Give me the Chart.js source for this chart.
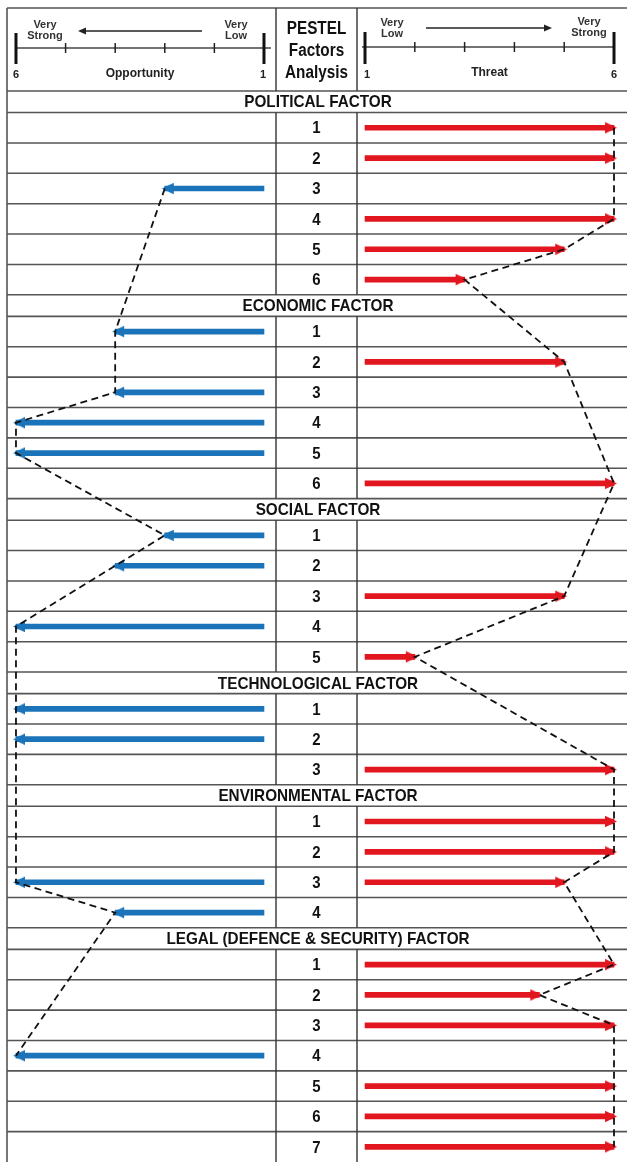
<!DOCTYPE html>
<html><head><meta charset="utf-8">
<script src="https://cdn.jsdelivr.net/npm/chart.js@4.4.1/dist/chart.umd.min.js"></script>
<style>html,body{margin:0;padding:0;background:#fff;}canvas{display:block;}</style>
</head><body>
<canvas id="c" width="627" height="1162"></canvas>
<script>
// ---------- DATA ----------
const sectionNames = ['POLITICAL FACTOR','ECONOMIC FACTOR','SOCIAL FACTOR','TECHNOLOGICAL FACTOR','ENVIRONMENTAL FACTOR','LEGAL (DEFENCE & SECURITY) FACTOR'];
const politicalOpportunity     = [null, null, 3, null, null, null];
const politicalThreat          = [6, 6, null, 6, 5, 3];
const economicOpportunity      = [4, null, 4, 6, 6, null];
const economicThreat           = [null, 5, null, null, null, 6];
const socialOpportunity        = [3, 4, null, 6, null];
const socialThreat             = [null, null, 5, null, 2];
const technologicalOpportunity = [6, 6, null];
const technologicalThreat      = [null, null, 6];
const environmentalOpportunity = [null, null, 6, 4];
const environmentalThreat      = [6, 6, 5, null];
const legalOpportunity         = [null, null, null, 6, null, null, null];
const legalThreat              = [6, 4.5, 6, null, 6, 6, 6];
const opportunityTicks = [6, 5, 4, 3, 2, 1];
const threatTicks = [1, 2, 3, 4, 5, 6];

const opportunityBySection = [politicalOpportunity, economicOpportunity, socialOpportunity, technologicalOpportunity, environmentalOpportunity, legalOpportunity];
const threatBySection = [politicalThreat, economicThreat, socialThreat, technologicalThreat, environmentalThreat, legalThreat];

// ---------- ROW LAYOUT (in y-scale units) ----------
const TITLE_H = 0.71, ITEM_H = 1;
const rows = [];
let cursor = 0;
sectionNames.forEach((name, s) => {
  rows.push({type: 'title', top: cursor, bottom: cursor + TITLE_H, center: cursor + TITLE_H / 2, label: name});
  cursor += TITLE_H;
  opportunityBySection[s].forEach((o, i) => {
    rows.push({type: 'item', top: cursor, bottom: cursor + ITEM_H, center: cursor + ITEM_H / 2,
      label: String(i + 1), opp: o, thr: threatBySection[s][i]});
    cursor += ITEM_H;
  });
});
const TOTAL = cursor;
const items = rows.filter(r => r.type === 'item');
const oppRows = items.filter(r => r.opp !== null);
const thrRows = items.filter(r => r.thr !== null);

const BLUE = '#1b74ba', RED = '#e2161e';

function makeHead(color, dir) {
  const c = document.createElement('canvas');
  c.width = 28; c.height = 13;
  const g = c.getContext('2d');
  g.fillStyle = color;
  const cx = 14, cy = 6.5, tip = 3, len = 12, half = 5.8;
  g.beginPath();
  if (dir > 0) { g.moveTo(cx + tip, cy); g.lineTo(cx + tip - len, cy - half); g.lineTo(cx + tip - len, cy + half); }
  else { g.moveTo(cx - tip, cy); g.lineTo(cx - tip + len, cy - half); g.lineTo(cx - tip + len, cy + half); }
  g.closePath(); g.fill();
  return c;
}
const headRight = makeHead(RED, 1);
const headLeft = makeHead(BLUE, -1);

const FONT = '"Liberation Sans", Arial, Helvetica, sans-serif';
function txt(ctx, t, x, y, size, sx, color, align) {
  ctx.save();
  ctx.font = 'bold ' + size + 'px ' + FONT;
  ctx.fillStyle = color || '#111';
  ctx.textAlign = align || 'center';
  ctx.textBaseline = 'middle';
  ctx.translate(x, y);
  ctx.scale(sx, 1);
  ctx.fillText(t, 0, 0);
  ctx.restore();
}
function line(ctx, x1, y1, x2, y2, w, color) {
  ctx.beginPath(); ctx.moveTo(x1, y1); ctx.lineTo(x2, y2);
  ctx.lineWidth = w; ctx.strokeStyle = color; ctx.stroke();
}
function smallArrow(ctx, x1, x2, y) {
  const d = x2 > x1 ? 1 : -1;
  line(ctx, x1, y, x2 - d * 5, y, 1.6, '#222');
  ctx.beginPath(); ctx.moveTo(x2, y); ctx.lineTo(x2 - d * 8, y - 3.5); ctx.lineTo(x2 - d * 8, y + 3.5);
  ctx.closePath(); ctx.fillStyle = '#222'; ctx.fill();
}

const COL1 = 276, COL2 = 357, LEFT = 7, RIGHT = 627, TOP = 8;

const tablePlugin = {
  id: 'table',
  beforeDraw(chart) {
    const ctx = chart.ctx;
    ctx.save(); ctx.fillStyle = '#fff'; ctx.fillRect(0, 0, chart.width, chart.height); ctx.restore();
  },
  beforeDatasetsDraw(chart) {
    const ctx = chart.ctx, y = chart.scales.y, xo = chart.scales.xo, xt = chart.scales.xt;
    const headerBottom = chart.chartArea.top;
    ctx.save();
    const GRID = '#555';
    // outer border
    line(ctx, LEFT, TOP, RIGHT, TOP, 1.6, GRID);
    line(ctx, LEFT, TOP, LEFT, chart.height, 1.6, GRID);
    line(ctx, LEFT, headerBottom, RIGHT, headerBottom, 1.6, GRID);
    // header column separators
    line(ctx, COL1, TOP, COL1, headerBottom, 1.4, '#333');
    line(ctx, COL2, TOP, COL2, headerBottom, 1.4, '#333');
    // rows
    rows.forEach(r => {
      const yb = y.getPixelForValue(r.bottom);
      if (r.bottom < TOTAL - 0.01) line(ctx, LEFT, yb, RIGHT, yb, 1.6, GRID);
      if (r.type === 'item') {
        const yt = y.getPixelForValue(r.top);
        line(ctx, COL1, yt, COL1, yb, 1.4, '#333');
        line(ctx, COL2, yt, COL2, yb, 1.4, '#333');
        txt(ctx, r.label, (COL1 + COL2) / 2, y.getPixelForValue(r.center) + 1, 17, 0.88, '#111');
      } else {
        txt(ctx, r.label, (LEFT + RIGHT) / 2 + 1, y.getPixelForValue(r.center) + 1, 17, 0.9, '#111');
      }
    });
    // header: middle
    txt(ctx, 'PESTEL', (COL1 + COL2) / 2, 29, 18, 0.85, '#111');
    txt(ctx, 'Factors', (COL1 + COL2) / 2, 51, 18, 0.85, '#111');
    txt(ctx, 'Analysis', (COL1 + COL2) / 2, 73, 18, 0.85, '#111');
    // header: opportunity axis
    const oL = xo.getPixelForValue(6), oR = xo.getPixelForValue(1);
    line(ctx, oL, 48, oR + 7, 48, 1.4, '#444');
    opportunityTicks.forEach((v, i) => {
      const px = xo.getPixelForValue(v);
      if (i === 0 || i === opportunityTicks.length - 1) line(ctx, px, 33, px, 64, 3, '#111');
      else line(ctx, px, 43, px, 53, 1.5, '#222');
    });
    txt(ctx, String(opportunityTicks[0]), oL, 75, 11, 1, '#222');
    txt(ctx, String(opportunityTicks[opportunityTicks.length - 1]), oR - 1, 75, 11, 1, '#222');
    txt(ctx, 'Opportunity', (oL + oR) / 2, 74, 12, 1, '#222');
    txt(ctx, 'Very', 45, 25, 11, 1, '#333');
    txt(ctx, 'Strong', 45, 36, 11, 1, '#333');
    txt(ctx, 'Very', 236, 25, 11, 1, '#333');
    txt(ctx, 'Low', 236, 36, 11, 1, '#333');
    smallArrow(ctx, 202, 78, 31);
    // header: threat axis
    const tL = xt.getPixelForValue(1), tR = xt.getPixelForValue(6);
    line(ctx, tL - 3, 47, tR, 47, 1.4, '#444');
    threatTicks.forEach((v, i) => {
      const px = xt.getPixelForValue(v);
      if (i === 0 || i === threatTicks.length - 1) line(ctx, px, 32, px, 64, 3, '#111');
      else line(ctx, px, 42, px, 52, 1.5, '#222');
    });
    txt(ctx, String(threatTicks[0]), tL + 2, 75, 11, 1, '#222');
    txt(ctx, String(threatTicks[threatTicks.length - 1]), tR, 75, 11, 1, '#222');
    txt(ctx, 'Threat', (tL + tR) / 2, 73, 12, 1, '#222');
    txt(ctx, 'Very', 392, 23, 11, 1, '#333');
    txt(ctx, 'Low', 392, 34, 11, 1, '#333');
    txt(ctx, 'Very', 589, 22, 11, 1, '#333');
    txt(ctx, 'Strong', 589, 33, 11, 1, '#333');
    smallArrow(ctx, 426, 552, 28);
    ctx.restore();
  }
};

new Chart(document.getElementById('c'), {
  type: 'bar',
  data: {
    datasets: [
      { type: 'line', label: 'Opportunity path', xAxisID: 'xo', yAxisID: 'y', order: 0,
        data: oppRows.map(r => ({x: r.opp, y: r.center})),
        borderColor: '#111', borderWidth: 1.8, borderDash: [7, 4.5], pointRadius: 0, fill: false, tension: 0, clip: false },
      { type: 'line', label: 'Threat path', xAxisID: 'xt', yAxisID: 'y', order: 0,
        data: thrRows.map(r => ({x: r.thr, y: r.center})),
        borderColor: '#111', borderWidth: 1.8, borderDash: [7, 4.5], pointRadius: 0, fill: false, tension: 0, clip: false },
      { type: 'scatter', label: 'Opportunity heads', xAxisID: 'xo', yAxisID: 'y', order: 1,
        data: oppRows.map(r => ({x: r.opp, y: r.center})),
        pointStyle: headLeft, pointRadius: 6, clip: false },
      { type: 'scatter', label: 'Threat heads', xAxisID: 'xt', yAxisID: 'y', order: 1,
        data: thrRows.map(r => ({x: r.thr, y: r.center})),
        pointStyle: headRight, pointRadius: 6, clip: false },
      { type: 'bar', label: 'Opportunity', indexAxis: 'y', xAxisID: 'xo', yAxisID: 'y', order: 2,
        data: oppRows.map(r => ({x: [1, r.opp], y: r.center})),
        backgroundColor: BLUE, borderWidth: 0, barThickness: 5, grouped: false },
      { type: 'bar', label: 'Threat', indexAxis: 'y', xAxisID: 'xt', yAxisID: 'y', order: 2,
        data: thrRows.map(r => ({x: [1, r.thr], y: r.center})),
        backgroundColor: RED, borderWidth: 0, barThickness: 5, grouped: false }
    ]
  },
  options: {
    responsive: false,
    animation: false,
    events: [],
    layout: { padding: { top: 91, left: 7, right: 0, bottom: 0 }, autoPadding: false },
    plugins: { legend: { display: false }, tooltip: { enabled: false }, title: { display: false } },
    scales: {
      xo: { axis: 'x', type: 'linear', display: false, offset: false, grace: 0, reverse: true, min: -6.319, max: 6.181 },
      xt: { axis: 'x', type: 'linear', display: false, offset: false, grace: 0, min: -6.189, max: 6.261 },
      y:  { axis: 'y', type: 'linear', display: false, offset: false, grace: 0, reverse: true, min: 0, max: TOTAL }
    }
  },
  plugins: [tablePlugin]
});
</script>
</body></html>
